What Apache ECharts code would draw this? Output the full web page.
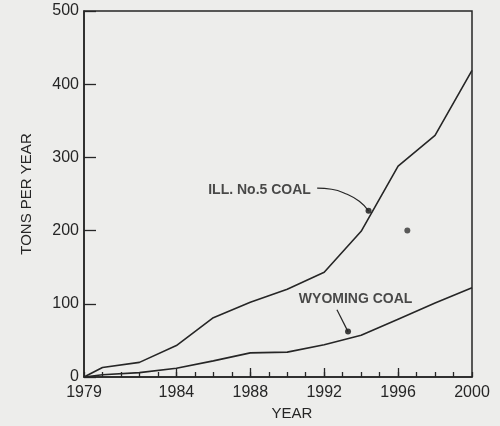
<!DOCTYPE html>
<html>
<head>
<meta charset="utf-8">
<script src="https://cdn.jsdelivr.net/npm/echarts@6/dist/echarts.min.js"></script>
<style>
html,body{margin:0;padding:0;background:#ededeb;}
#c{width:500px;height:426px;}
</style>
</head>
<body>
<div id="c"></div>
<script>
// Data
var years = [1979, 1980, 1982, 1984, 1986, 1988, 1990, 1992, 1994, 1996, 1998, 2000];
var illinoisCoal = [0, 13, 20, 43, 81, 102, 120, 143, 199, 288, 330, 419];
var wyomingCoal  = [0, 3, 6, 12, 22, 33, 34, 44, 57, 79, 101, 122];
var xTickLabels = [1979, 1984, 1988, 1992, 1996, 2000];
var xMajorTicks = [1984, 1988, 1992, 1996];
var yTicks = [0, 100, 200, 300, 400, 500];
// annotations (data coordinates)
var illLabel = {text: 'ILL. No.5 COAL', at: [1988.5, 255]};
var illLeader = [[1991.62, 258], [1992.4, 256.5], [1993.2, 250], [1993.9, 240], [1994.4, 227]];
var wyoLabel = {text: 'WYOMING COAL', at: [1993.7, 107]};
var wyoLeader = [[1992.69, 92], [1993.29, 62]];
var arrowDots = [[1994.4, 227], [1993.29, 62]];
var speck = [[1996.5, 200]];

var ink = '#262626';
var font = "'Liberation Sans', 'DejaVu Sans', sans-serif";

function pairs(xs, ys) { return xs.map(function (x, i) { return [x, ys[i]]; }); }

var chart = echarts.init(document.getElementById('c'), null, {renderer: 'canvas'});
chart.setOption({
  animation: false,
  backgroundColor: '#ededeb',
  grid: {left: 84, right: 28, top: 11, bottom: 45, show: true, borderColor: ink, borderWidth: 1.5, backgroundColor: 'transparent'},
  xAxis: [{
    type: 'value', min: 1979, max: 2000, interval: 1,
    name: 'YEAR', nameLocation: 'middle', nameGap: 29,
    nameTextStyle: {color: ink, fontFamily: font, fontSize: 15, padding: [0, 0, 0, 28]},
    axisLine: {show: true, lineStyle: {color: ink, width: 1.5}},
    axisTick: {show: true, inside: true, length: 5, lineStyle: {color: ink, width: 1.3}},
    axisLabel: {customValues: xTickLabels, color: ink, fontFamily: font, fontSize: 16, margin: 8,
      formatter: function (v) { return String(v); }},
    splitLine: {show: false}
  }, {
    type: 'value', min: 1979, max: 2000, position: 'bottom',
    axisLine: {show: false},
    axisTick: {show: true, inside: true, length: 9, customValues: xMajorTicks, lineStyle: {color: ink, width: 1.3}},
    axisLabel: {show: false},
    splitLine: {show: false}
  }],
  yAxis: {
    type: 'value', min: 0, max: 500, interval: 100,
    name: 'TONS PER YEAR', nameLocation: 'middle', nameGap: 50,
    nameTextStyle: {color: ink, fontFamily: font, fontSize: 15},
    axisLine: {show: true, lineStyle: {color: ink, width: 1.5}},
    axisTick: {show: true, inside: true, length: 12, customValues: yTicks, lineStyle: {color: ink, width: 1.3}},
    axisLabel: {color: ink, fontFamily: font, fontSize: 16, margin: 5, customValues: yTicks},
    splitLine: {show: false}
  },
  series: [
    {name: 'ILL. No.5 COAL', type: 'line', data: pairs(years, illinoisCoal), showSymbol: false, symbol: 'none',
      lineStyle: {color: ink, width: 1.6}},
    {name: 'WYOMING COAL', type: 'line', data: pairs(years, wyomingCoal), showSymbol: false, symbol: 'none',
      lineStyle: {color: ink, width: 1.6}},
    {name: 'illLeader', type: 'line', data: illLeader, smooth: true, symbol: 'none',
      lineStyle: {color: ink, width: 1.2}},
    {name: 'wyoLeader', type: 'line', data: wyoLeader, symbol: 'none',
      lineStyle: {color: ink, width: 1.2}},
    {name: 'arrowDots', type: 'scatter', data: arrowDots, symbolSize: 6, itemStyle: {color: '#111'}},
    {name: 'speck', type: 'scatter', data: speck, symbolSize: 6, itemStyle: {color: '#333'}},
    {name: 'labels', type: 'scatter', symbolSize: 0,
      data: [
        {name: illLabel.text, value: illLabel.at},
        {name: wyoLabel.text, value: wyoLabel.at}
      ],
      label: {show: true, position: 'inside', formatter: '{b}', color: '#1e1e1e',
        fontFamily: font, fontSize: 14, fontWeight: 'bold'}}
  ]
});
</script>
</body>
</html>
